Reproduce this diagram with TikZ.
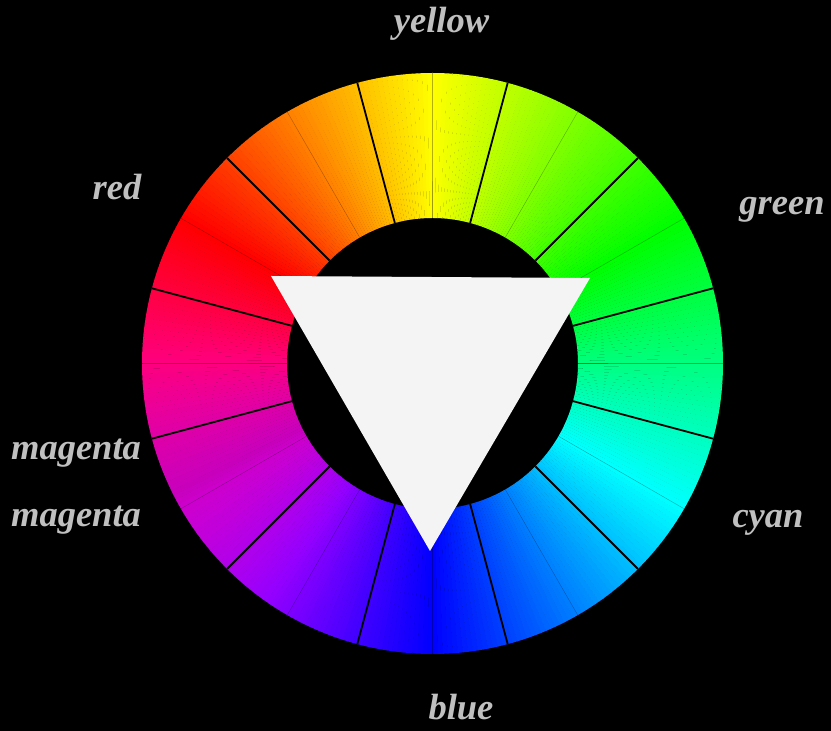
\documentclass[tikz,border=0pt]{standalone}
\usepackage{fontspec}
\setmainfont{Liberation Serif}
\definecolor{labelgray}{HTML}{C0C0C0}
\definecolor{trifill}{HTML}{F4F4F4}
\tikzset{
  lbl/.style={text=labelgray, anchor=base, inner sep=0pt,
    font=\fontsize{36.5}{40}\selectfont\bfseries\itshape},
  sepline/.style={draw=black, line width=1.8pt},
  subline/.style={draw=black, draw opacity=0.3, line width=0.4pt},
}
\begin{document}
\begin{tikzpicture}[x=1pt,y=1pt]
  \fill[black] (0,0) rectangle (831,731);
  \useasboundingbox (0,0) rectangle (831,731);
  \coordinate (C) at (432.5,367.5);
  \def\Ro{290.5}
  \def\Ri{145.5}
  % colour ring
  \begin{scope}[shift={(C)}]
    \foreach \a in {0,...,359}{
      \pgfmathsetmacro\h{mod(150-\a-0.5+720,360)}
      \pgfmathsetmacro\b{1-0.22*max(0,1-abs(\h-303)/28)}
      \definecolor{wc}{Hsb}{\h,1,\b}
      \pgfmathsetmacro\e{\a+1.08}
      \fill[wc] (\a:\Ro) arc[start angle=\a, end angle=\e, radius=\Ro]
        -- (\e:\Ri) arc[start angle=\e, end angle=\a, radius=\Ri] -- cycle;
    }
    \foreach \a in {0,30,...,330}{
      \draw[subline] (\a:\Ri) -- (\a:\Ro);
    }
    \foreach \a in {15,45,...,345}{
      \draw[sepline] (\a:\Ri) -- (\a:\Ro);
    }
  \end{scope}
  % triangle
  \coordinate (T1) at (271,455);
  \coordinate (T2) at (590,453);
  \coordinate (T3) at (430,180);
  \fill[trifill] (T1) -- (T2) -- (T3) -- cycle;
  % labels
  \node[lbl] (yellow) at (441.5,698) {yellow};
  \node[lbl] (green) at (782,516) {green};
  \node[lbl] (cyan) at (768,203) {cyan};
  \node[lbl] (blue) at (461,11) {blue};
  \node[lbl] (magentaA) at (76,271) {magenta};
  \node[lbl] (magentaB) at (76,204) {magenta};
  \node[lbl] (red) at (117,531) {red};
\end{tikzpicture}
\end{document}
